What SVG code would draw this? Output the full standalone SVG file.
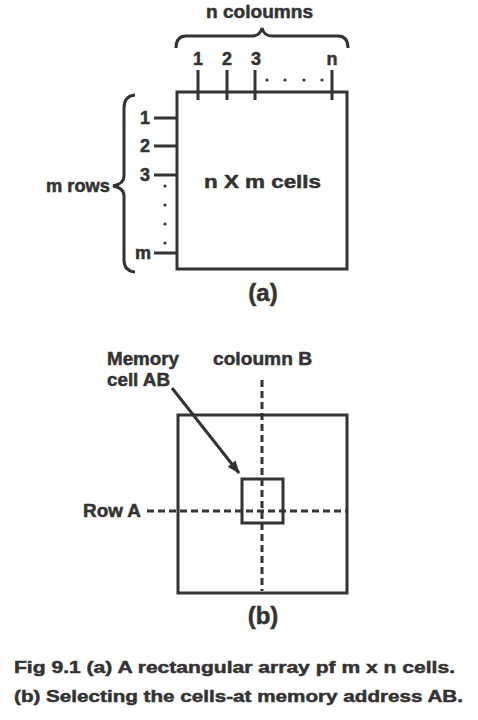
<svg xmlns="http://www.w3.org/2000/svg" width="478" height="720" viewBox="0 0 478 720">
<defs>
<style>
text{font-family:"Liberation Sans",Arial,sans-serif;font-weight:bold;fill:#333;stroke:#333;stroke-width:0.5}
.s{fill:none;stroke:#333;stroke-width:3}
.d{fill:none;stroke:#333;stroke-width:3;stroke-dasharray:7,4}
.dot{fill:#333}
</style>
<marker id="ah" viewBox="0 0 13 10" refX="12" refY="5" markerWidth="13" markerHeight="10" orient="auto" markerUnits="userSpaceOnUse">
<path d="M0,0 L13,5 L0,10 z" fill="#333"/>
</marker>
</defs>
<rect width="478" height="720" fill="#fff"/>

<g id="array-a">
<rect class="s" x="177" y="92" width="170" height="177"/>
<text x="204" y="188" font-size="18" textLength="117" lengthAdjust="spacingAndGlyphs">n X m cells</text>
</g>

<g id="col-brace">
<path class="s" d="M176,48 Q176,36 186,36 L252,36 Q260,36 262,28 Q264,36 272,36 L338,36 Q348,36 348,48"/>
<text x="206" y="18" font-size="18" textLength="107" lengthAdjust="spacingAndGlyphs">n coloumns</text>
</g>

<g id="col-ticks">
<path class="s" d="M198,70V100M227,70V100M255,70V100M332,70V100"/>
<text x="198" y="65" font-size="18" text-anchor="middle">1</text>
<text x="227" y="65" font-size="18" text-anchor="middle">2</text>
<text x="256" y="65" font-size="18" text-anchor="middle">3</text>
<text x="332" y="65" font-size="18" text-anchor="middle">n</text>
<circle class="dot" cx="267" cy="80" r="1.6"/>
<circle class="dot" cx="285" cy="80" r="1.6"/>
<circle class="dot" cx="304" cy="80" r="1.6"/>
<circle class="dot" cx="322" cy="80" r="1.6"/>
</g>

<g id="row-brace">
<path class="s" d="M135,95 Q124,96 124,108 L124,176 Q124,184 113,186 Q124,188 124,196 L124,260 Q124,271 135,272"/>
<text x="46" y="192" font-size="18" textLength="64" lengthAdjust="spacingAndGlyphs">m rows</text>
</g>

<g id="row-ticks">
<path class="s" d="M154,118H177M154,146H177M154,175H177M154,253H177"/>
<text x="150" y="124" font-size="18" text-anchor="end">1</text>
<text x="150" y="152" font-size="18" text-anchor="end">2</text>
<text x="150" y="181" font-size="18" text-anchor="end">3</text>
<text x="151" y="259" font-size="18" text-anchor="end">m</text>
<circle class="dot" cx="165" cy="186" r="1.6"/>
<circle class="dot" cx="165" cy="205" r="1.6"/>
<circle class="dot" cx="165" cy="224" r="1.6"/>
<circle class="dot" cx="165" cy="243" r="1.6"/>
</g>

<text x="263" y="301" font-size="24" text-anchor="middle">(a)</text>

<g id="array-b">
<rect class="s" x="178" y="415" width="169" height="178"/>
</g>

<g id="cell-ab">
<rect class="s" x="242" y="479" width="41" height="44"/>
</g>

<g id="connectors">
<path class="d" d="M262,380V591"/>
<path class="d" d="M147,511H347"/>
<path class="s" d="M172,388L239,473" marker-end="url(#ah)"/>
</g>

<g id="labels-b">
<text x="107" y="365" font-size="18" textLength="72" lengthAdjust="spacingAndGlyphs">Memory</text>
<text x="107" y="386" font-size="18" textLength="63" lengthAdjust="spacingAndGlyphs">cell AB</text>
<text x="213" y="365" font-size="18" textLength="99" lengthAdjust="spacingAndGlyphs">coloumn B</text>
<text x="83" y="517" font-size="18" textLength="58" lengthAdjust="spacingAndGlyphs">Row A</text>
<text x="263" y="624" font-size="24" text-anchor="middle">(b)</text>
</g>

<g id="caption">
<text x="14" y="673" font-size="17" textLength="441" lengthAdjust="spacingAndGlyphs">Fig 9.1 (a) A rectangular array pf m x n cells.</text>
<text x="14" y="702" font-size="17" textLength="449" lengthAdjust="spacingAndGlyphs">(b) Selecting the cells-at memory address AB.</text>
</g>
</svg>
